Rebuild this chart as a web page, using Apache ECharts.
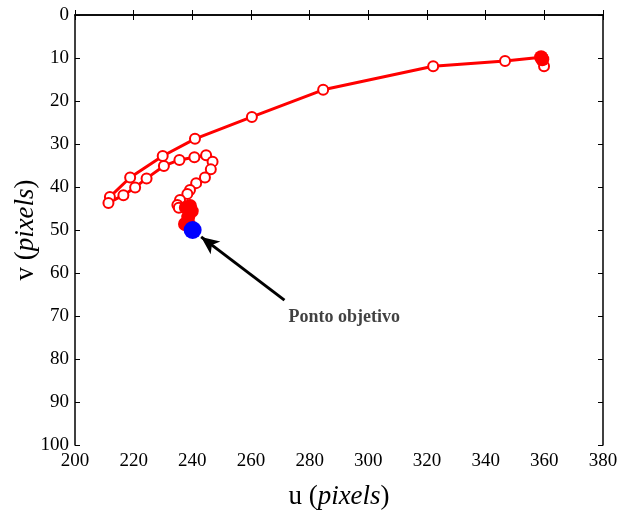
<!DOCTYPE html>
<html><head><meta charset="utf-8">
<script src="https://cdn.jsdelivr.net/npm/echarts@6/dist/echarts.min.js"></script>
<style>html,body{margin:0;padding:0;background:#fff}#c{width:619px;height:510px}</style>
</head><body><div id="c"></div>
<script>
// trajectory (u, v) in pixels
const trajU = [359.9, 358.9, 346.6, 322.1, 284.6, 260.3, 240.9, 229.9, 218.8, 211.9, 211.4, 216.5, 220.5, 224.4, 230.3, 235.6, 240.7, 244.7, 246.9, 246.3, 244.3, 241.3, 239.2, 238.3, 235.8, 234.9, 235.4, 239.2, 238.6, 237.5, 239.0];
const trajV = [11.9, 9.8, 10.7, 11.9, 17.4, 23.7, 28.8, 32.8, 37.8, 42.3, 43.7, 41.9, 40.1, 38.0, 35.1, 33.7, 33.1, 32.6, 34.1, 35.9, 37.8, 39.1, 40.7, 41.6, 43.0, 44.2, 44.8, 44.4, 45.5, 48.8, 49.0];
// clusters of overlapping samples (drawn filled)
const clusterU = [358.9, 359.3, 239.2, 237.8, 239.8, 238.6, 237.5, 239.0];
const clusterV = [9.8, 10.3, 44.4, 44.8, 45.6, 47.0, 48.6, 48.9];
const targetU = [240.1];
const targetV = [50.0];
const arrowFrom = [271.4, 66.3];
const arrowTo = [243.0, 51.6];
const noteText = 'Ponto objetivo';
const notePos = [291.8, 70.2];
const xTicks = [200, 380, 20];
const yTicks = [0, 100, 10];

const font = 'Liberation Serif';
const traj = trajU.map((u, i) => [u, trajV[i]]);
const clusters = clusterU.map((u, i) => [u, clusterV[i]]);
const target = targetU.map((u, i) => [u, targetV[i]]);

const chart = echarts.init(document.getElementById('c'));
const axisCommon = {
  axisLine: { show: true, lineStyle: { color: '#000', width: 1.5 } },
  axisTick: { show: true, inside: true, length: 5, lineStyle: { color: '#000', width: 1 } },
  splitLine: { show: false }
};
const nameRich = {
  a: { fontFamily: font, fontSize: 27, color: '#000' },
  b: { fontFamily: font, fontSize: 27, fontStyle: 'italic', color: '#000' }
};
chart.setOption({
  animation: false,
  backgroundColor: '#fff',
  grid: { left: 75, right: 16, top: 15, bottom: 65, containLabel: false, outerBoundsMode: 'none' },
  xAxis: [
    Object.assign({
      type: 'value', min: xTicks[0], max: xTicks[1], interval: xTicks[2], position: 'bottom',
      axisLabel: { color: '#000', fontFamily: font, fontSize: 19, margin: 7 },
      name: '{a|u (}{b|pixels}{a|)}', nameLocation: 'middle', nameGap: 38, nameMoveOverlap: false,
      nameTextStyle: { rich: nameRich }
    }, axisCommon),
    Object.assign({
      type: 'value', min: xTicks[0], max: xTicks[1], interval: xTicks[2], position: 'top',
      axisLabel: { show: false }
    }, axisCommon)
  ],
  yAxis: [
    Object.assign({
      type: 'value', inverse: true, min: yTicks[0], max: yTicks[1], interval: yTicks[2], position: 'left',
      axisLabel: { color: '#000', fontFamily: font, fontSize: 19, margin: 6 },
      name: '{a|v (}{b|pixels}{a|)}', nameLocation: 'middle', nameGap: 36, nameRotate: 90, nameMoveOverlap: false,
      nameTextStyle: { rich: nameRich }
    }, axisCommon),
    Object.assign({
      type: 'value', inverse: true, min: yTicks[0], max: yTicks[1], interval: yTicks[2], position: 'right',
      axisLabel: { show: false }
    }, axisCommon)
  ],
  series: [
    {
      type: 'line', data: traj, symbol: 'emptyCircle', symbolSize: 10, showSymbol: true,
      lineStyle: { color: '#ff0000', width: 3 },
      itemStyle: { color: '#ff0000', borderColor: '#ff0000', borderWidth: 3 },
      z: 3
    },
    {
      type: 'scatter', data: clusters, symbol: 'circle', symbolSize: 14,
      itemStyle: { color: '#ff0000', opacity: 1 }, z: 4
    },
    {
      type: 'scatter', data: target, symbol: 'circle', symbolSize: 18,
      itemStyle: { color: '#0000ff', opacity: 1 }, z: 5,
      markLine: {
        silent: true, symbol: ['none', 'arrow'], symbolSize: [12, 18],
        lineStyle: { color: '#000', width: 3, type: 'solid' },
        label: { show: false },
        data: [[{ coord: arrowFrom }, { coord: arrowTo }]]
      }
    },
    {
      type: 'scatter', data: [notePos], symbolSize: 0, z: 6,
      label: { show: true, formatter: noteText, position: 'inside',
        fontFamily: font, fontWeight: 'bold', fontSize: 18, color: '#111' }
    }
  ]
});
</script>
</body></html>
